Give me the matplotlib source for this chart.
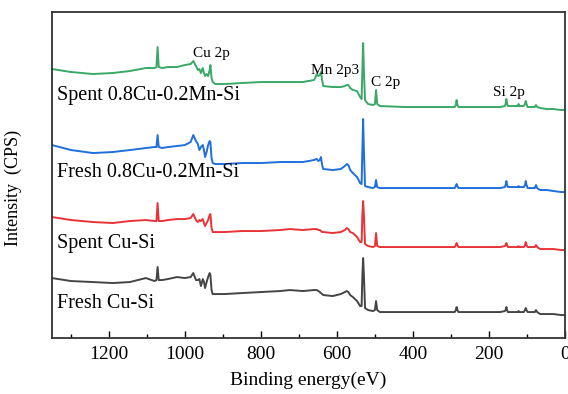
import numpy as np
import matplotlib
matplotlib.use("Agg")
import matplotlib.pyplot as plt
from matplotlib.ticker import MultipleLocator

plt.rcParams["font.family"] = ["Liberation Serif", "DejaVu Serif"]

# binding energy grid (eV), shared by all four survey spectra
energy = [
    1350, 1300, 1242, 1190, 1145, 1103, 1080, 1075, 1072, 1069,
    1060, 1045, 1021, 1000, 985, 978, 971, 966, 962, 958,
    953, 950, 947, 943, 939, 935, 933, 930, 927, 920,
    895, 850, 800, 750, 724, 690, 660, 655, 653, 649,
    645, 642, 639, 636, 611, 590, 579, 574, 570, 565,
    558, 547, 539, 535, 533, 531, 529, 526, 518, 505,
    500, 497, 494, 487, 420, 350, 290, 287, 285, 283,
    280, 230, 170, 158, 156, 154, 152, 150, 135, 124,
    122, 120, 108, 105, 103, 101, 98, 85, 79, 76,
    73, 65, 47, 30, 10, 0,
]

# stacked intensities (CPS, offset per sample)
spent_cumn = [
    271, 268, 266, 267, 269, 272, 272, 273, 293, 273,
    272, 273, 273, 275, 276, 279, 274, 270, 271, 267,
    272, 267, 264, 266, 264, 270, 275, 262, 258, 256,
    256, 257, 258, 258, 258, 258, 260, 264, 266, 264,
    265, 268, 260, 254, 253, 253, 254, 255, 255, 252,
    250, 249, 243, 241, 270, 297, 270, 240, 236, 235,
    236, 250, 236, 234, 233, 233, 233, 235, 240, 235,
    233, 233, 233, 234, 236, 241, 236, 234, 234, 234,
    236, 234, 234, 236, 239, 236, 233, 233, 233, 235,
    233, 232, 231, 231, 230, 230,
]
fresh_cumn = [
    195, 190, 187, 188, 190, 192, 193, 193, 205, 193,
    192, 193, 194, 195, 198, 205, 199, 196, 190, 193,
    195, 190, 183, 188, 195, 199, 198, 182, 177, 176,
    176, 177, 177, 178, 178, 178, 180, 181, 181, 179,
    180, 183, 175, 171, 170, 171, 174, 176, 175, 170,
    167, 163, 157, 156, 190, 221, 190, 154, 153, 152,
    153, 160, 153, 152, 152, 152, 152, 154, 156, 154,
    152, 152, 152, 153, 155, 159, 155, 153, 153, 153,
    154, 153, 153, 155, 159, 155, 152, 152, 152, 155,
    152, 150, 150, 149, 148, 148,
]
spent_cu = [
    123, 120, 118, 117, 119, 120, 119, 119, 137, 119,
    119, 120, 121, 121, 122, 126, 120, 118, 120, 119,
    121, 117, 114, 117, 120, 125, 126, 112, 108, 108,
    108, 109, 109, 110, 111, 110, 111, 111, 111, 110,
    110, 109, 108, 108, 107, 108, 110, 112, 111, 108,
    107, 103, 98, 98, 125, 139, 125, 96, 94, 93,
    94, 107, 94, 93, 93, 93, 93, 95, 97, 95,
    93, 93, 93, 94, 95, 97, 95, 93, 93, 93,
    94, 93, 93, 95, 98, 95, 93, 93, 93, 95,
    93, 91, 91, 91, 90, 90,
]
fresh_cu = [
    62, 59, 58, 57, 58, 62, 59, 60, 73, 60,
    60, 61, 63, 62, 63, 67, 60, 60, 61, 54,
    61, 58, 52, 58, 63, 67, 65, 50, 46, 46,
    46, 47, 48, 49, 50, 49, 50, 50, 50, 49,
    48, 47, 46, 45, 44, 46, 48, 49, 48, 45,
    43, 39, 34, 34, 65, 82, 65, 32, 30, 29,
    30, 39, 30, 28, 28, 28, 28, 30, 33, 30,
    28, 28, 28, 29, 30, 33, 30, 28, 28, 28,
    29, 28, 28, 30, 32, 30, 28, 28, 28, 30,
    28, 26, 26, 26, 25, 25,
]

series = [
    (spent_cumn, "#3aa867", "Spent 0.8Cu-0.2Mn-Si", 245),
    (fresh_cumn, "#1f6fdc", "Fresh 0.8Cu-0.2Mn-Si", 168),
    (spent_cu, "#ea3338", "Spent Cu-Si", 97),
    (fresh_cu, "#454545", "Fresh Cu-Si", 37),
]

# peak assignments: (text, energy, height)
peaks = [
    ("Cu 2p", 979, 287),
    ("Mn 2p3", 668, 270),
    ("C 2p", 510, 258),
    ("Si 2p", 189, 248),
]

fig = plt.figure(figsize=(5.68, 3.94), dpi=100)
ax = fig.add_axes([0.0915, 0.142, 0.903, 0.8275])

for y, color, label, ty in series:
    ax.plot(energy, y, color=color, lw=1.4)
    ax.text(1337, ty, label, fontsize=14.5, va="center", ha="left")

for name, ex, ey in peaks:
    ax.text(ex, ey, name, fontsize=11, va="center", ha="left")

ax.set_xlim(1350, 0)
ax.set_ylim(2, 328)
ax.xaxis.set_major_locator(MultipleLocator(200))
ax.xaxis.set_minor_locator(MultipleLocator(100))
ax.set_yticks([])
ax.tick_params(axis="x", which="both", direction="in", top=False, labelsize=14, pad=6)
ax.tick_params(axis="x", which="major", length=5, width=1)
ax.tick_params(axis="x", which="minor", length=3, width=1)
for sp in ax.spines.values():
    sp.set_color("#333333")
    sp.set_linewidth(1.3)

ax.set_xlabel("Binding energy(eV)", fontsize=14, labelpad=6)
ax.set_ylabel("Intensity  (CPS)", fontsize=13)
ax.yaxis.set_label_coords(-0.058, 0.46)

fig.savefig("out.png", dpi=100)
